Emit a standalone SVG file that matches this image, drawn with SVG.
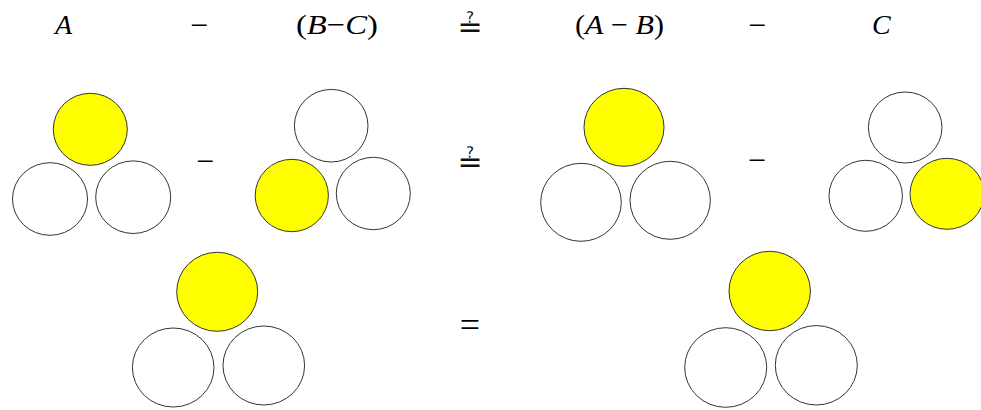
<svg xmlns="http://www.w3.org/2000/svg" width="981" height="410" viewBox="0 0 981 410">
<style>
.c{stroke:#333;stroke-width:1;fill:#fff}
.y{fill:#ffff00}
text{font-family:"Liberation Serif","DejaVu Serif",serif;fill:#000}
.m{font-size:28px}
.i{font-style:italic}
.op{font-size:32px;text-anchor:middle}
.eq{font-size:36px;text-anchor:middle}
.qe{font-family:"DejaVu Sans","DejaVu Serif",sans-serif;font-size:30px;text-anchor:middle;fill:#111}
</style>
<rect width="981" height="410" fill="#fff"/>
<g id="header">
<text class="m i" x="55" y="34">A</text>
<text class="op" x="199" y="36">−</text>
<text class="m" x="296" y="34" textLength="82" lengthAdjust="spacingAndGlyphs">(<tspan class="i">B</tspan>−<tspan class="i">C</tspan>)</text>
<text class="qe" x="470" y="37">≟</text>
<text class="m" x="575" y="34" textLength="89" lengthAdjust="spacingAndGlyphs">(<tspan class="i">A</tspan> − <tspan class="i">B</tspan>)</text>
<text class="op" x="757" y="36">−</text>
<text class="m i" x="872" y="34">C</text>
</g>
<g id="setA">
<ellipse class="c y" cx="90.3" cy="129.3" rx="37" ry="36"/>
<ellipse class="c" cx="50" cy="199" rx="37.5" ry="36.3"/>
<ellipse class="c" cx="133.2" cy="197.2" rx="37.5" ry="36.3"/>
</g>
<text class="op" x="205" y="171.5">−</text>
<g id="setBC">
<ellipse class="c" cx="331.2" cy="125.7" rx="36.8" ry="36.3"/>
<ellipse class="c y" cx="291.8" cy="195.5" rx="36.6" ry="36.2"/>
<ellipse class="c" cx="373.3" cy="193.5" rx="37" ry="36.2"/>
</g>
<text class="qe" x="470" y="171.5">≟</text>
<g id="setAB">
<ellipse class="c y" cx="624" cy="127.3" rx="40" ry="39"/>
<ellipse class="c" cx="581" cy="202.3" rx="40.3" ry="39"/>
<ellipse class="c" cx="670.2" cy="200.3" rx="40.2" ry="39"/>
</g>
<text class="op" x="756.7" y="171">−</text>
<g id="setC">
<ellipse class="c" cx="905.2" cy="127.5" rx="36.8" ry="35.5"/>
<ellipse class="c" cx="865.7" cy="195.8" rx="36.7" ry="35.5"/>
<ellipse class="c y" cx="947" cy="193.8" rx="37" ry="35.5"/>
</g>
<g id="result1">
<ellipse class="c y" cx="217.2" cy="291.8" rx="40.5" ry="39.5"/>
<ellipse class="c" cx="173.2" cy="367.5" rx="40.8" ry="39.5"/>
<ellipse class="c" cx="263.8" cy="365.5" rx="40.8" ry="39.5"/>
</g>
<text class="eq" x="470" y="336.9">=</text>
<g id="result2">
<ellipse class="c y" cx="769.7" cy="291" rx="40.7" ry="39.7"/>
<ellipse class="c" cx="725.7" cy="367.5" rx="41" ry="39.8"/>
<ellipse class="c" cx="816.3" cy="365.3" rx="41" ry="39.7"/>
</g>
</svg>
